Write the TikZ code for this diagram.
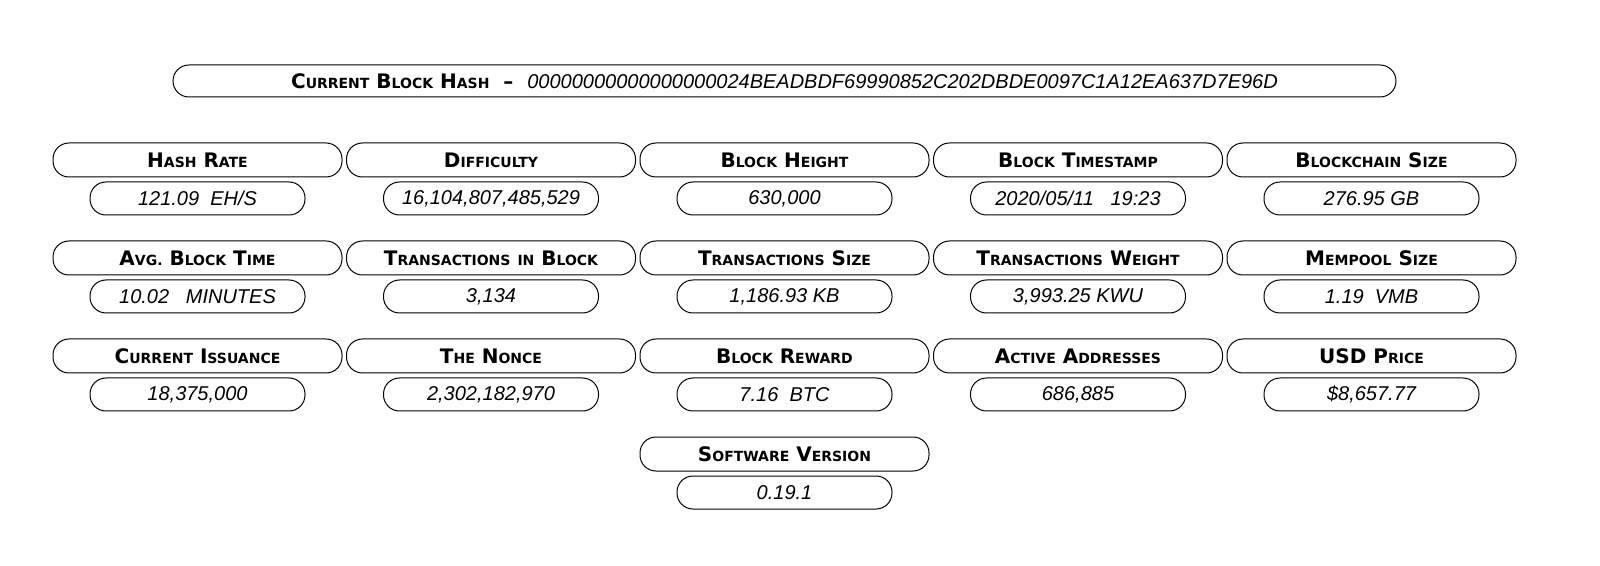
\documentclass[tikz,border=0pt]{standalone}
\usepackage{fontspec}
\setmainfont{DejaVu Sans}
\newfontfamily\lcdfont{Liberation Sans}
\newcommand\w[1]{\wx#1\relax}
\def\wx#1#2\relax{{\fontsize{10}{12}\selectfont#1}{\fontsize{7}{8}\selectfont\MakeUppercase{#2}}}
\tikzset{
  hdbox/.style={draw, rounded corners=8pt, minimum width=144.5pt, minimum height=17pt,
    inner sep=0pt, font=\bfseries, line width=0.5pt},
  valbox/.style={draw, rounded corners=8pt, minimum width=107.5pt, minimum height=16.5pt,
    inner sep=0pt, font=\lcdfont\itshape\fontsize{10}{12}\selectfont, line width=0.5pt},
}
\begin{document}
\begin{tikzpicture}[x=0.5pt,y=-0.5pt]
  \useasboundingbox (0,0) rectangle (1600,566);
  % top bar
  \node[hdbox, minimum width=611.5pt, minimum height=16pt] (hash) at (784.5,81)
    {\w{Current} \w{Block} \w{Hash} \ --\ \ {\lcdfont\mdseries\itshape\fontsize{10}{12}\selectfont 00000000000000000024BEADBDF69990852C202DBDE0097C1A12EA637D7E96D}};
  % grid
  \foreach \r/\c/\hd/\val in {
      1/1/{\w{Hash} \w{Rate}}/{121.09\ \ EH/S},
      1/2/{\w{Difficulty}}/{16,104,807,485,529},
      1/3/{\w{Block} \w{Height}}/{630,000},
      1/4/{\w{Block} \w{Timestamp}}/{2020/05/11\ \ \ 19:23},
      1/5/{\w{Blockchain} \w{Size}}/{276.95 GB},
      2/1/{\w{Avg.} \w{Block} \w{Time}}/{10.02\ \ \ MINUTES},
      2/2/{\w{Transactions} {\fontsize{7}{8}\selectfont IN} \w{Block}}/{3,134},
      2/3/{\w{Transactions} \w{Size}}/{1,186.93 KB},
      2/4/{\w{Transactions} \w{Weight}}/{3,993.25 KWU},
      2/5/{\w{Mempool} \w{Size}}/{1.19\ \ VMB},
      3/1/{\w{Current} \w{Issuance}}/{18,375,000},
      3/2/{\w{The} \w{Nonce}}/{2,302,182,970},
      3/3/{\w{Block} \w{Reward}}/{7.16\ \ BTC},
      3/4/{\w{Active} \w{Addresses}}/{686,885},
      3/5/{{\fontsize{10}{12}\selectfont USD} \w{Price}}/{\$8,657.77},
      4/3/{\w{Software} \w{Version}}/{0.19.1}}
  {
    \node[hdbox] (hd-\r-\c) at ({197.5+293.5*(\c-1)},{160+98*(\r-1)}) {\hd};
    \node[valbox] (val-\r-\c) at ({197.5+293.5*(\c-1)},{198.5+98*(\r-1)}) {\val};
  }
\end{tikzpicture}
\end{document}
